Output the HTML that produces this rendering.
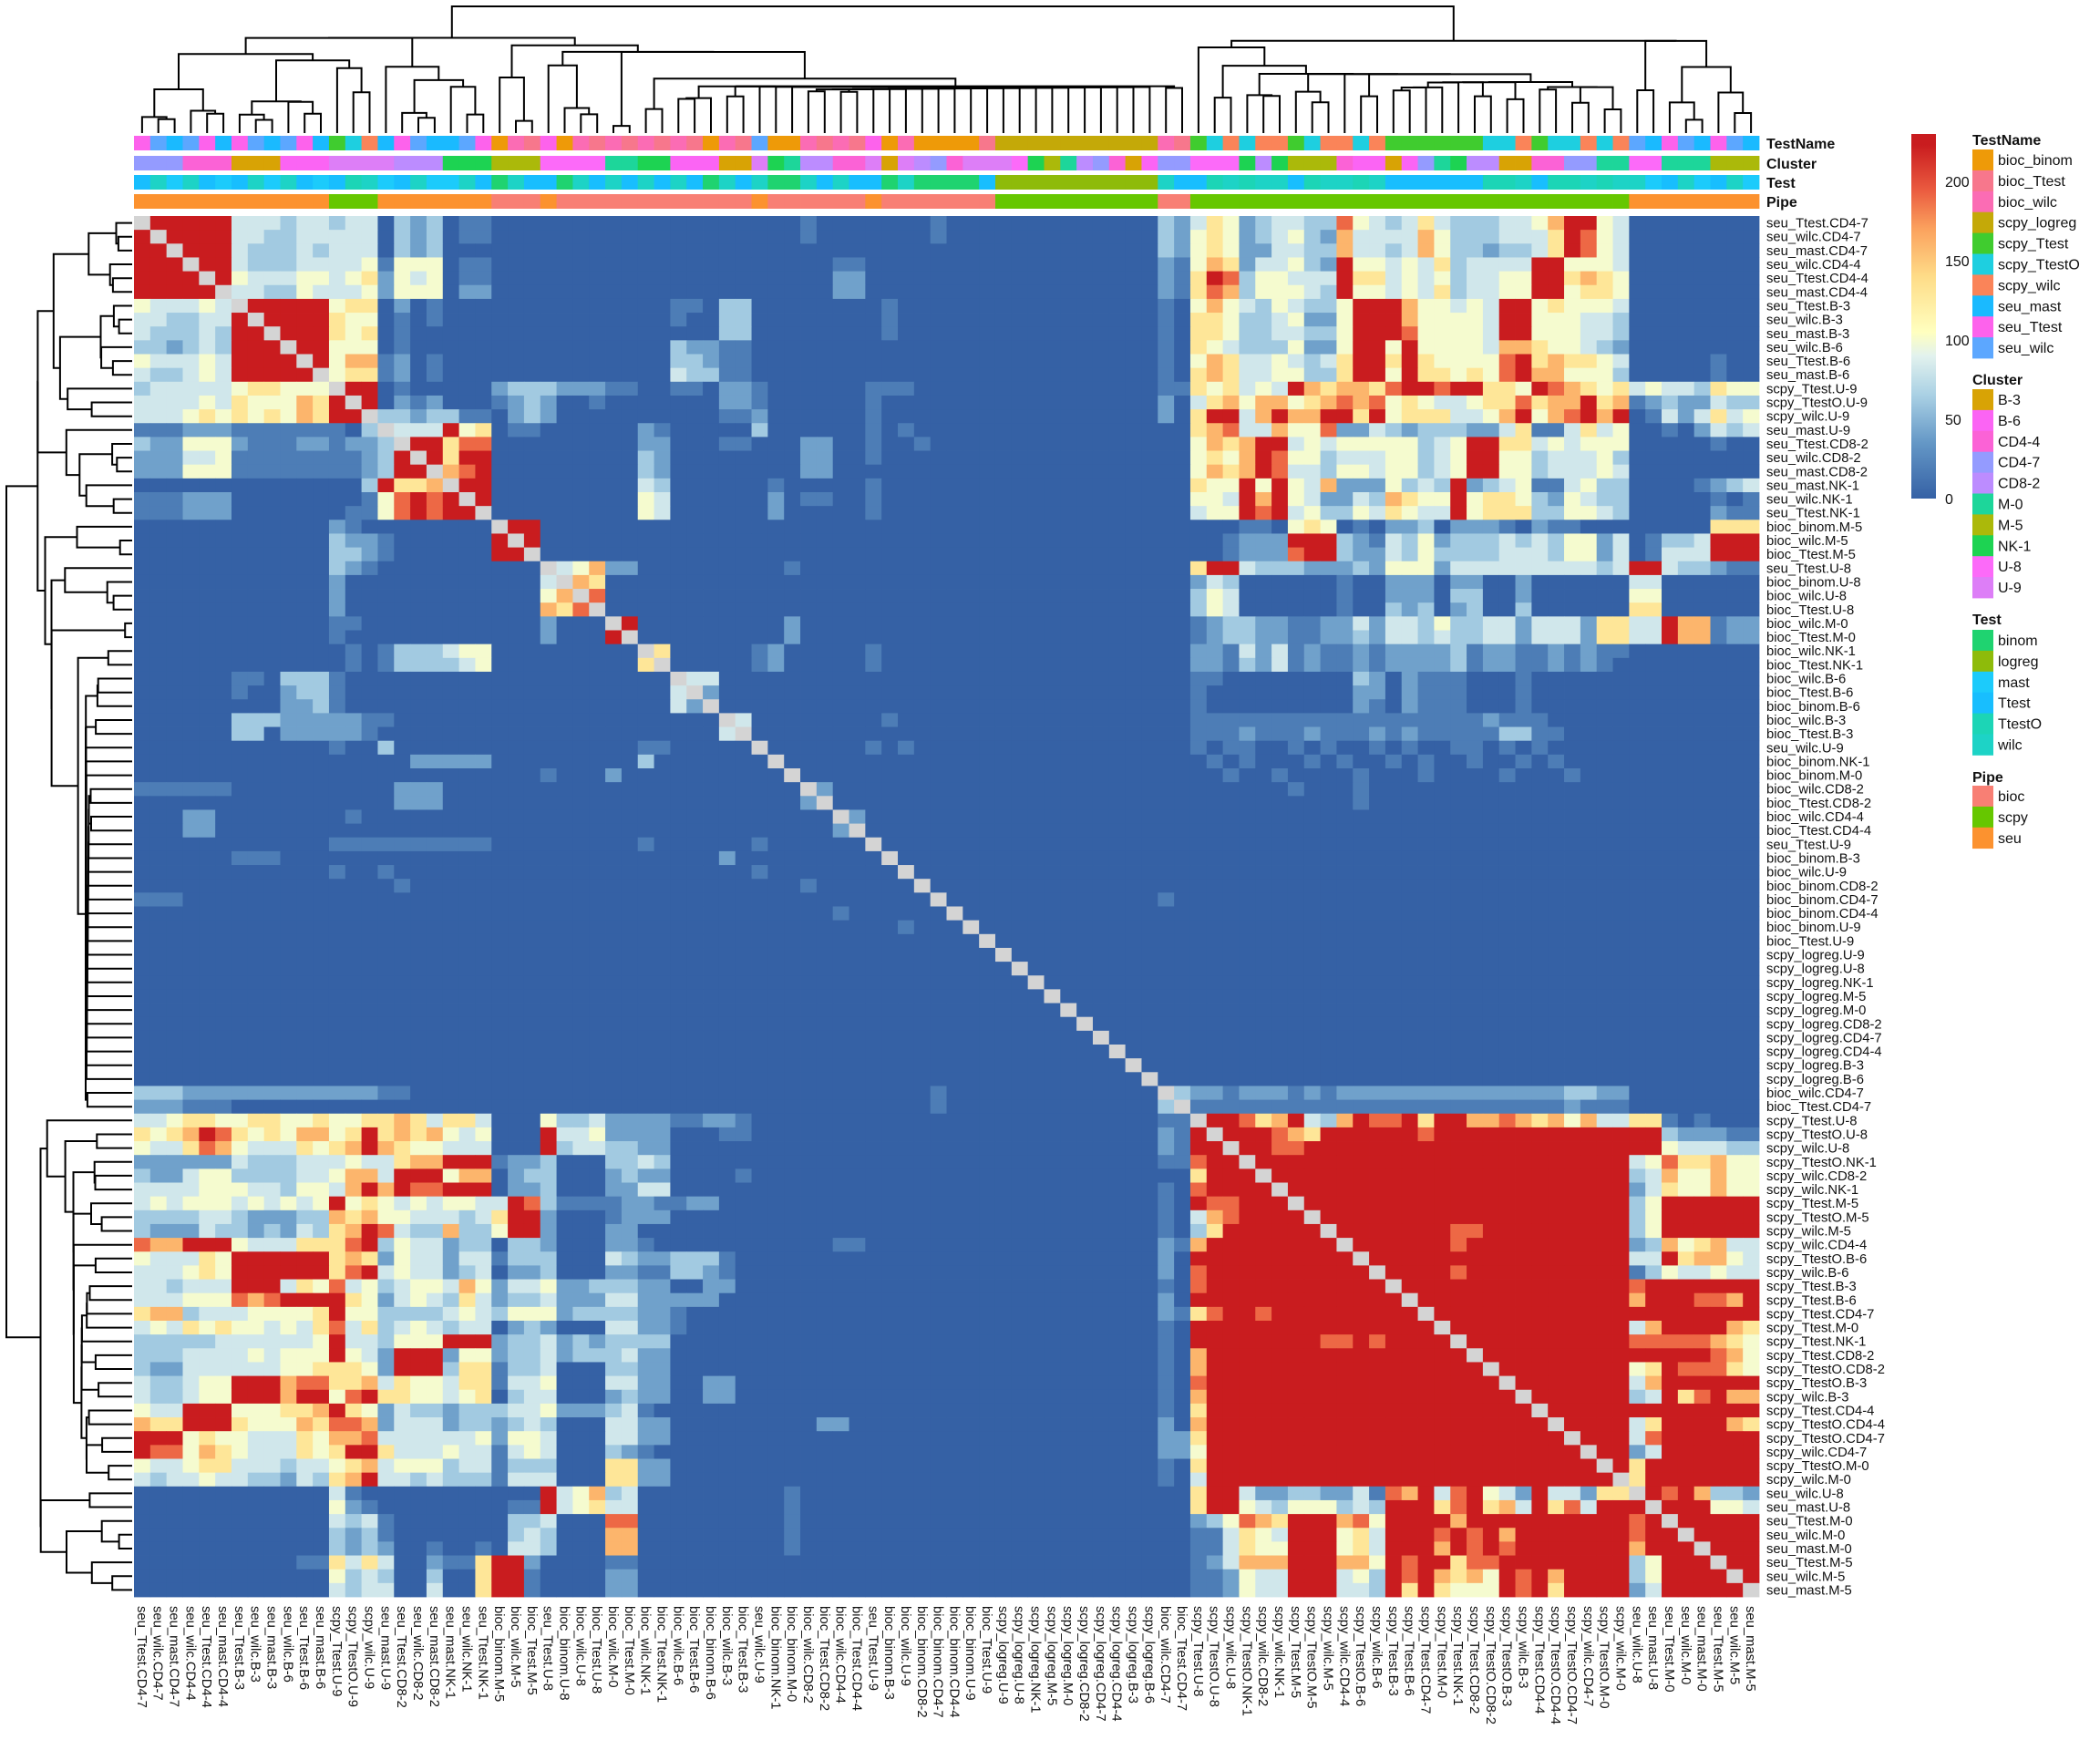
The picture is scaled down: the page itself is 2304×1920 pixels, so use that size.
<!DOCTYPE html>
<html>
<head>
<meta charset="utf-8">
<style>
  html,body{margin:0;padding:0;background:#fff;}
  svg{display:block;font-family:"Liberation Sans",Arial,sans-serif;}
</style>
</head>
<body>
<svg id="chart" xmlns="http://www.w3.org/2000/svg" width="2304" height="1920" viewBox="0 0 2304 1920">
  <rect x="0" y="0" width="2304" height="1920" fill="#ffffff"/>
  <g id="g-dend-top"></g>
  <g id="g-dend-left"></g>
  <g id="g-annot"></g>
  <g id="g-cells"></g>
  <g id="g-rowlab"></g>
  <g id="g-collab"></g>
  <g id="g-legend"></g>
</svg>
<script>
const labels = ["seu_Ttest.CD4-7","seu_wilc.CD4-7","seu_mast.CD4-7","seu_wilc.CD4-4","seu_Ttest.CD4-4","seu_mast.CD4-4","seu_Ttest.B-3","seu_wilc.B-3","seu_mast.B-3","seu_wilc.B-6",
"seu_Ttest.B-6","seu_mast.B-6","scpy_Ttest.U-9","scpy_TtestO.U-9","scpy_wilc.U-9","seu_mast.U-9","seu_Ttest.CD8-2","seu_wilc.CD8-2","seu_mast.CD8-2","seu_mast.NK-1",
"seu_wilc.NK-1","seu_Ttest.NK-1","bioc_binom.M-5","bioc_wilc.M-5","bioc_Ttest.M-5","seu_Ttest.U-8","bioc_binom.U-8","bioc_wilc.U-8","bioc_Ttest.U-8","bioc_wilc.M-0",
"bioc_Ttest.M-0","bioc_wilc.NK-1","bioc_Ttest.NK-1","bioc_wilc.B-6","bioc_Ttest.B-6","bioc_binom.B-6","bioc_wilc.B-3","bioc_Ttest.B-3","seu_wilc.U-9","bioc_binom.NK-1",
"bioc_binom.M-0","bioc_wilc.CD8-2","bioc_Ttest.CD8-2","bioc_wilc.CD4-4","bioc_Ttest.CD4-4","seu_Ttest.U-9","bioc_binom.B-3","bioc_wilc.U-9","bioc_binom.CD8-2","bioc_binom.CD4-7",
"bioc_binom.CD4-4","bioc_binom.U-9","bioc_Ttest.U-9","scpy_logreg.U-9","scpy_logreg.U-8","scpy_logreg.NK-1","scpy_logreg.M-5","scpy_logreg.M-0","scpy_logreg.CD8-2","scpy_logreg.CD4-7",
"scpy_logreg.CD4-4","scpy_logreg.B-3","scpy_logreg.B-6","bioc_wilc.CD4-7","bioc_Ttest.CD4-7","scpy_Ttest.U-8","scpy_TtestO.U-8","scpy_wilc.U-8","scpy_TtestO.NK-1","scpy_wilc.CD8-2",
"scpy_wilc.NK-1","scpy_Ttest.M-5","scpy_TtestO.M-5","scpy_wilc.M-5","scpy_wilc.CD4-4","scpy_TtestO.B-6","scpy_wilc.B-6","scpy_Ttest.B-3","scpy_Ttest.B-6","scpy_Ttest.CD4-7",
"scpy_Ttest.M-0","scpy_Ttest.NK-1","scpy_Ttest.CD8-2","scpy_TtestO.CD8-2","scpy_TtestO.B-3","scpy_wilc.B-3","scpy_Ttest.CD4-4","scpy_TtestO.CD4-4","scpy_TtestO.CD4-7","scpy_wilc.CD4-7",
"scpy_TtestO.M-0","scpy_wilc.M-0","seu_wilc.U-8","seu_mast.U-8","seu_Ttest.M-0","seu_wilc.M-0","seu_mast.M-0","seu_Ttest.M-5","seu_wilc.M-5","seu_mast.M-5"];

const levelValues = [0,18,40,62,82,100,130,160,190,223];

const rows = [
"x999994443 4434403230 1100000000 z 0100000001 z 0003246523 4433854346 4333445799 5400000000",
"9x99994433 4444403230 1100000000 z 0100000001 z 0003256523 4532744447 5333444698 5400000000",
"99x9994333 4344403230 z z z z 0003256522 4433744347 5332334698 5400000000",
"999x994333 4444515550 1100000000 z 0001100000 z 0002157624 4532955454 6344449955 5400000000",
"9999x95444 5545625450 1100000000 z 0002200000 z 0002169835 5444966454 5344559967 6500000000",
"99999x4433 5444525550 2200000000 z 0002200000 z 0002168735 5543955454 6344559956 6500000000",
"544454x999 9956602010 z 0001103300 0000001000 z 0001057543 5433599975 5454995655 5400000000",
"4433449x99 9965501010 z 0001003300 0000001000 z 0001066533 4522599975 5554995554 4300000000",
"43334399x9 9965601000 z 0000003300 0000001000 z 0001066533 4433599985 5554995554 4300000000",
"332343999x 9955501000 z 0003221100 z z 0001065433 3522599595 5554776554 3200000000",
"5444549999 x957712010 z 0003321100 z z 0001057644 5434699696 5555896766 5400000100",
"4334549999 9x56612010 z 0004331100 z z 0001067644 5533699596 6565897755 5300000100",
"3444445665 55x9901000 0023332221 1001102210 0000011100 z 0001165645 4976776899 8996659876 5645443655",
"4444546555 769x902120 0012320010 0000002210 0000010000 z 0002046757 7567878565 4456686779 6712322433",
"4445656565 7699x33233 1102320000 0000001120 0000010000 z 0002069947 9779969566 6445795789 7901424645",
"1112221111 11103x4449 5601100000 0210000030 0000010100 z 0000067844 7558224323 3322461146 4500102434",
"3225552111 221223x996 8800000000 0220001100 0220010010 z 0000057679 9454555553 4599664545 5500000100",
"2224451111 1111239x96 9900000000 0320000000 0220010000 z 0000056579 8553444553 4599553444 5300000000",
"2225551111 11112399x7 8900000000 0320000000 0220000000 z 0000057679 8443554553 4599553444 5400000000",
"z 000039667x 9900000000 0430000001 0000010000 z 0000065595 9547222534 3923451145 3300001234",
"1112220000 0000158989 x900000000 0540000002 0110010000 z 0000055497 9542243765 5956653254 3300000101",
"1112220000 0001158989 9x00000000 0540000002 0000010000 z 0000045598 9453354654 4956663355 4300000211",
"z 0021000000 00x9900000 z z z 0000000011 0565010223 0222102110 0000000666",
"z 0032210000 009x900000 z z z 0000000122 2999321435 2333434355 2401334999",
"z 0033210000 0099x00000 z z z 0000000122 2899322435 3333444355 2401444999",
"z 0032100000 00000x4572 2000000000 1000000000 z 0000069943 3322232555 2444444444 3499433211",
"z 0020000000 000004x760 z z z 0000024300 0000100222 0220020000 0044000000",
"z 0020000000 0000057x80 z z z 0000035400 0000100222 0330020000 0055000000",
"z 0020000000 00000768x0 z z z 0000035400 0000100323 0230030000 0066000000",
"z 0011000000 000002000x 9000000000 2000000000 z 0000012332 2112242443 5334424442 6644977122",
"z 0010000000 0000020009 x000000000 2000000000 z 0000012332 2112232443 4334424442 6644977122",
"z 0001013334 5500000000 0x60000012 0000010000 z 0000022142 4121121222 2312211212 1100000000",
"z 0001013333 4500000000 06x0000012 0000010000 z 0000022132 4121121222 2312211212 1000000000",
"0000001103 3310000000 z 000x440000 z z 0000011000 0000032021 1100010000 z",
"0000001002 3310000000 z 0004x20000 z z 0000010000 0000022021 1100010000 z",
"0000000002 2310000000 z 00042x0000 z z 0000010000 0000021021 1100010000 z",
"0000003332 2222110000 z 000000x400 0000001000 z 0000011111 1111111111 1112111000 z",
"0000003302 2222100000 z 0000004x00 z z 0000011121 1121112121 1111331100 z",
"z 0010030000 z 01100000x0 0000010100 z 0000010110 0101001010 0110101000 z",
"z 0000000222 2200000000 030000000x z z 0000001010 0010100101 0010010100 z",
"z z 0000010002 z x000000000 z 0000000100 1000010001 0000100010 0000000000",
"1111110000 0000002220 z z 0x20000000 z z 0100010000 z z",
"z 0000002220 z z 02x0000000 z z 0000010000 z z",
"0002200000 0001000000 z z 000x200000 z z z z z",
"0002200000 z z z 0002x00000 z z z z z",
"z 0011111111 1100000000 0100000010 00000x0000 z z z z z",
"0000001110 z z 0000002000 000000x000 z z z z z",
"z 0010010000 z 0000000010 0000000x00 z z z z z",
"z 0000001000 z z 01000000x0 z z z z z",
"1110000000 z z z 000000000x z 0001000000 z z z",
"z z z z 0001000000 x000000000 z z z z",
"z z z z 0000000100 0x00000000 z z z z",
"z z z z z 00x0000000 z z z z",
"z z z z z 000x000000 z z z z",
"z z z z z 0000x00000 z z z z",
"z z z z z 00000x0000 z z z z",
"z z z z z 000000x000 z z z z",
"z z z z z 0000000x00 z z z z",
"z z z z z 00000000x0 z z z z",
"z z z z z 000000000x z z z z",
"z z z z z z x000000000 z z z",
"z z z z z z 0x00000000 z z z",
"z z z z z z 00x0000000 z z z",
"3332222222 2222211000 z z 0000000001 z 000x322122 2121222222 2222222233 2200000000",
"2221110000 z z z 0000000001 z 0003x11111 1111111111 1111111121 1100000000",
"4456655665 5655667646 6400053342 2221122100 z z 00011x9986 7943798896 9977876757 4466101000",
"6567986565 7756967675 4500094452 2220001100 z z 000219x999 8769999998 9999999999 9999322211",
"5446875444 6567976554 4400093443 3220000000 z z 0002199x99 8899999999 9999999999 9999544433",
"2222224333 4445446779 9912230003 3430000000 z z 00011899x9 9999999999 9999999999 9945866755",
"3224553333 4457749995 7702330002 3220000100 z z 000006999x 9999999999 9999999999 9934755755",
"4444555443 5547979889 9902230002 2440000000 z z 0001089999 x999999999 9999999999 9924655755",
"4545554545 4595654545 5449831111 2211220000 z z 0001098899 9x99999999 9999999999 9935999999",
"3333443222 3376755444 3469920001 2220000000 z z 0001047899 99x9999999 9999999999 9935999999",
"3222433232 4367984337 3359920002 2000000000 z z 0001036999 999x999999 9889999999 9935999999",
"8779995444 6668935442 3303320002 2100000000 0001100000 z 0002179999 9999x99999 9899999999 9923756744",
"5444659999 9967625442 4413330004 3223331000 z z 0002099999 99999x9999 9999999999 9944967754",
"4445659999 9968945442 3402230002 2113321000 z z 0002089999 999999x999 9899999999 9913544544",
"4434449994 6584534554 7524452233 3220022000 z z 0001089999 9999999x99 9999999999 9989999999",
"4445558789 9996524543 6423342224 4222220000 z z 0002099999 99999999x9 9999999999 9979998879",
"6773444555 5695533334 5435552333 3221000000 z z 0002168998 999999999x 9999999999 9999999999",
"4546565545 4684634543 4402320004 4221000000 z z 0001099999 9999999999 x999999999 9947999976",
"3333344444 4594435559 9923342323 3330000000 z z 0001099999 9998898999 9x99999999 9988888765",
"3334444545 5595429992 5523342333 4220000000 z z 0001079999 9999999999 99x9999999 9999999875",
"3224444445 5666529993 6613340003 3220000000 z z 0001079999 9999999999 999x999999 9956988865",
"4334559997 8866746554 6614450004 4220022000 z z 0001089999 9999999999 9999x99999 9947999999",
"4334559997 9958966554 5603440002 3220022000 z z 0001079999 9999999999 99999x9999 9934968977",
"5449995556 6796524332 3334452223 4100000000 z z 0001069999 9999999999 999999x999 9999999999",
"7669996555 7688724442 3323430004 4220000000 0022000000 z 0002079999 9999999999 9999999x99 9946999976",
"9995655444 6577844444 4525540004 4220000000 z z 0002269999 9999999999 99999999x9 9948999999",
"9885765444 6569964445 4414540003 2100000000 z z 0002259999 9999999999 999999999x 9924999999",
"5445664443 4456745553 4413330006 6220000000 z z 0001069999 9999999999 9999999999 x969999999",
"4344544332 4367944343 3314440006 6220000000 z z 0001049999 9999999999 9999999999 9x69999999",
"z 0041000000 0000094573 4000000000 1000000000 z 0000069942 2332241879 4895429442 66x9897332",
"z 0052100000 0001194564 4000000000 1000000000 z 0000069954 3555343999 6896749684 999x999554",
"z 0043410000 0003340008 8000000000 1000000000 z 0000023587 6999785999 9799999999 9989x99999",
"z 0032310000 0003430007 7000000000 1000000000 z 0000011465 4999564999 8989799999 99899x9999",
"z 0032320010 0104430007 7000000000 1000000000 z 0000011465 5999564999 7989899999 997999x999",
"z 1164640021 1699200001 1000000000 z z 0000012477 7999775989 9688999999 9935999x99",
"z 0053430030 0699100002 2000000000 z z 0000011254 4999453989 7675989799 99359999x9",
"z 0043440040 0699100002 2000000000 z z 0000011254 4999443969 6555989699 992499999x"
];

const colorStopValues = [0, 35, 65, 90, 105, 140, 170, 195, 223];
const colorStopColors = ["#3561A5","#6497C6","#A9D0E4","#E2F2EE","#FFFFBF","#FEDC88","#FBA25E","#EA5A3F","#C91C1F"];
const colorbarMax = 230;
const colorTicks = [0, 50, 100, 150, 200];

const testNameKeys = ["bioc_binom","bioc_Ttest","bioc_wilc","scpy_logreg","scpy_Ttest","scpy_TtestO","scpy_wilc","seu_mast","seu_Ttest","seu_wilc"];
const testNameColors = ["#EE9A08","#F7778C","#FB6CB4","#C4A908","#40CC2F","#1ECFE0","#FA8459","#1ABAFF","#FD62EC","#5CA7FF"];
const clusterKeys = ["B-3","B-6","CD4-4","CD4-7","CD8-2","M-0","M-5","NK-1","U-8","U-9"];
const clusterColors = ["#D8A305","#FB64F4","#FB62D6","#949BFF","#BC8CFF","#1DD69A","#ABB90A","#1DD352","#FC6AF9","#DD7EF7"];
const testKeys = ["binom","logreg","mast","Ttest","TtestO","wilc"];
const testColors = ["#1FD370","#8EBB0A","#1CCBFB","#18BEFE","#1CD5B6","#1DD3C6"];
const pipeKeys = ["bioc","scpy","seu"];
const pipeColors = ["#F87F74","#66C700","#FC922F"];

const NS = "http://www.w3.org/2000/svg";
const X0 = 147, Y0 = 237, CW = 17.83, CH = 15.15, N = 100;

function hexToRgb(h){return [parseInt(h.slice(1,3),16),parseInt(h.slice(3,5),16),parseInt(h.slice(5,7),16)];}
function colorFor(v){
  if (v <= colorStopValues[0]) return colorStopColors[0];
  for (let i=1;i<colorStopValues.length;i++){
    if (v <= colorStopValues[i]){
      const t=(v-colorStopValues[i-1])/(colorStopValues[i]-colorStopValues[i-1]);
      const a=hexToRgb(colorStopColors[i-1]), b=hexToRgb(colorStopColors[i]);
      return "rgb("+a.map((c,k)=>Math.round(c+(b[k]-c)*t)).join(",")+")";
    }
  }
  return colorStopColors[colorStopColors.length-1];
}
function xScale(c){return X0 + c*CW;}
function yScale(r){return Y0 + r*CH;}

const matrix = rows.map(r=>{
  let s = r.split(" ").map(g=>g==="z"?"0000000000":g).join("");
  while (s.length<N) s+="0";
  return s.slice(0,N).split("");
});

const gCells = document.getElementById("g-cells");
for (let r=0;r<N;r++){
  for (let c=0;c<N;c++){
    const ch = matrix[r][c];
    const el = document.createElementNS(NS,"rect");
    el.setAttribute("x", xScale(c).toFixed(2));
    el.setAttribute("y", yScale(r).toFixed(2));
    el.setAttribute("width", (CW+0.4).toFixed(2));
    el.setAttribute("height", (CH+0.4).toFixed(2));
    el.setAttribute("fill", ch==="x" ? "#D4D4D4" : colorFor(levelValues[+ch]));
    
    
    gCells.appendChild(el);
  }
}

const gRow = document.getElementById("g-rowlab");
const gCol = document.getElementById("g-collab");
labels.forEach((lab,i)=>{
  const t = document.createElementNS(NS,"text");
  t.setAttribute("x", 1938);
  t.setAttribute("y", (yScale(i)+CH/2+5).toFixed(2));
  t.setAttribute("font-size", "14.8");
  t.setAttribute("fill", "#111");
  t.textContent = lab;
  
  
  gRow.appendChild(t);
  const u = document.createElementNS(NS,"text");
  const cx = xScale(i)+CW/2-5;
  u.setAttribute("transform", "translate("+cx.toFixed(2)+",1762) rotate(90)");
  u.setAttribute("font-size", "14.8");
  u.setAttribute("fill", "#111");
  u.textContent = lab;
  
  
  gCol.appendChild(u);
});

const gAnn = document.getElementById("g-annot");
const annNames = ["TestName","Cluster","Test","Pipe"];
const annY = [149,171,192,213];
function annValue(lab,k){
  const [pre,clu] = lab.split(".");
  const [pipe,test] = pre.split("_");
  if (k===0) return testNameColors[testNameKeys.indexOf(pre)];
  if (k===1) return clusterColors[clusterKeys.indexOf(clu)];
  if (k===2) return testColors[testKeys.indexOf(test)];
  return pipeColors[pipeKeys.indexOf(pipe)];
}
annNames.forEach((nm,k)=>{
  labels.forEach((lab,i)=>{
    const el = document.createElementNS(NS,"rect");
    el.setAttribute("x", xScale(i).toFixed(2));
    el.setAttribute("y", annY[k]);
    el.setAttribute("width", (CW+0.4).toFixed(2));
    el.setAttribute("height", 16);
    el.setAttribute("fill", annValue(lab,k));
    
    
    gAnn.appendChild(el);
  });
  const t = document.createElementNS(NS,"text");
  t.setAttribute("x", 1938);
  t.setAttribute("y", annY[k]+14);
  t.setAttribute("font-size", "16");
  t.setAttribute("font-weight", "bold");
  t.setAttribute("fill", "#111");
  t.textContent = nm;
  
  
  gAnn.appendChild(t);
});

const numeric = matrix.map(r=>r.map(ch=>ch==="x"?223:levelValues[+ch]));
let clusters = numeric.map((v,i)=>({pos:i,h:0,vec:v.slice(),n:1}));
const merges = [];
function dist(a,b){let s=0;for(let k=0;k<a.length;k++){const d=a[k]-b[k];s+=d*d;}return Math.sqrt(s);}
while (clusters.length>1){
  let best=0,bd=Infinity;
  for (let i=0;i<clusters.length-1;i++){
    const d=dist(clusters[i].vec,clusters[i+1].vec);
    if (d<bd){bd=d;best=i;}
  }
  const a=clusters[best], b=clusters[best+1];
  const h=Math.max(bd,a.h,b.h)+1;
  const vec=a.vec.map((x,k)=>(x*a.n+b.vec[k]*b.n)/(a.n+b.n));
  merges.push({ap:a.pos,ah:a.h,bp:b.pos,bh:b.h,h:h});
  clusters.splice(best,2,{pos:(a.pos+b.pos)/2,h:h,vec:vec,n:a.n+b.n});
}
const hMax = merges[merges.length-1].h;
const gTop = document.getElementById("g-dend-top");
const gLeft = document.getElementById("g-dend-left");
function hy(h){return 146 - Math.pow(h/hMax,0.85)*139;}
function hx(h){return 145 - Math.pow(h/hMax,0.85)*138;}
merges.forEach(m=>{
  const xa=xScale(m.ap)+CW/2, xb=xScale(m.bp)+CW/2;
  const p = document.createElementNS(NS,"path");
  p.setAttribute("d","M"+xa.toFixed(1)+","+hy(m.ah).toFixed(1)+"V"+hy(m.h).toFixed(1)+"H"+xb.toFixed(1)+"V"+hy(m.bh).toFixed(1));
  p.setAttribute("fill","none");
  p.setAttribute("stroke","#000");
  p.setAttribute("stroke-width","2");
  
  
  gTop.appendChild(p);
  const ya=yScale(m.ap)+CH/2, yb=yScale(m.bp)+CH/2;
  const q = document.createElementNS(NS,"path");
  q.setAttribute("d","M"+hx(m.ah).toFixed(1)+","+ya.toFixed(1)+"H"+hx(m.h).toFixed(1)+"V"+yb.toFixed(1)+"H"+hx(m.bh).toFixed(1));
  q.setAttribute("fill","none");
  q.setAttribute("stroke","#000");
  q.setAttribute("stroke-width","2");
  
  
  gLeft.appendChild(q);
});

const gLeg = document.getElementById("g-legend");
const defs = document.createElementNS(NS,"defs");
const grad = document.createElementNS(NS,"linearGradient");
grad.setAttribute("id","cbar");
grad.setAttribute("x1","0");grad.setAttribute("y1","1");grad.setAttribute("x2","0");grad.setAttribute("y2","0");
colorStopValues.forEach((v,i)=>{
  const s=document.createElementNS(NS,"stop");
  s.setAttribute("offset",(v/colorbarMax).toFixed(4));
  s.setAttribute("stop-color",colorStopColors[i]);
  grad.appendChild(s);
});
const lastStop=document.createElementNS(NS,"stop");
lastStop.setAttribute("offset","1");
lastStop.setAttribute("stop-color",colorStopColors[colorStopColors.length-1]);
grad.appendChild(lastStop);
defs.appendChild(grad);
gLeg.appendChild(defs);
const CB_TOP=147, CB_BOT=547;
const cb = document.createElementNS(NS,"rect");
cb.setAttribute("x",2097);cb.setAttribute("y",CB_TOP);cb.setAttribute("width",27);cb.setAttribute("height",CB_BOT-CB_TOP);
cb.setAttribute("fill","url(#cbar)");


gLeg.appendChild(cb);
colorTicks.forEach(v=>{
  const y = CB_BOT - v/colorbarMax*(CB_BOT-CB_TOP);
  const t=document.createElementNS(NS,"text");
  t.setAttribute("x",2134);
  t.setAttribute("y",(y+6).toFixed(1));
  t.setAttribute("font-size","16");
  t.setAttribute("fill","#111");
  t.textContent=String(v);
  
  
  gLeg.appendChild(t);
});

const legendGroups = [
  {title:"TestName", keys:testNameKeys, colors:testNameColors, titleY:159, top:164},
  {title:"Cluster", keys:clusterKeys, colors:clusterColors, titleY:422, top:427},
  {title:"Test", keys:testKeys, colors:testColors, titleY:685, top:691},
  {title:"Pipe", keys:pipeKeys, colors:pipeColors, titleY:858, top:862}
];
legendGroups.forEach(g=>{
  const t=document.createElementNS(NS,"text");
  t.setAttribute("x",2164);
  t.setAttribute("y",g.titleY);
  t.setAttribute("font-size","16");
  t.setAttribute("font-weight","bold");
  t.setAttribute("fill","#111");
  t.textContent=g.title;
  
  
  gLeg.appendChild(t);
  g.keys.forEach((k,i)=>{
    const y=g.top+i*22.9;
    const r=document.createElementNS(NS,"rect");
    r.setAttribute("x",2164);r.setAttribute("y",y.toFixed(1));
    r.setAttribute("width",23);r.setAttribute("height",23.3);
    r.setAttribute("fill",g.colors[i]);
    
    
    gLeg.appendChild(r);
    const l=document.createElementNS(NS,"text");
    l.setAttribute("x",2192);
    l.setAttribute("y",(y+17).toFixed(1));
    l.setAttribute("font-size","16");
    l.setAttribute("fill","#111");
    l.textContent=k;
    
    
    gLeg.appendChild(l);
  });
});
</script>
</body>
</html>
